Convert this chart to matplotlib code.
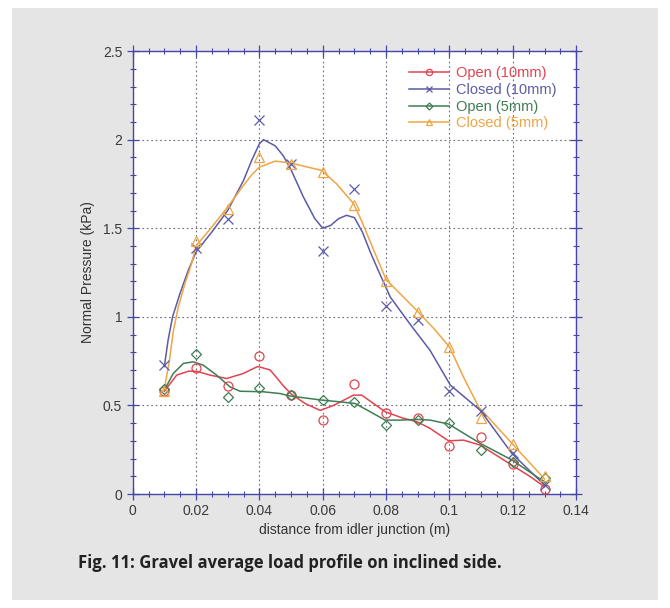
import numpy as np
import matplotlib.pyplot as plt
from matplotlib.patches import Rectangle
from matplotlib.ticker import MultipleLocator

plt.rcParams["font.family"] = ["Liberation Sans", "DejaVu Sans"]

# ── Measured points ─────────────────────────────────────────────────────────
distance = [0.01, 0.02, 0.03, 0.04, 0.05, 0.06, 0.07, 0.08, 0.09, 0.10, 0.11, 0.12, 0.13]
open_10 = [0.58, 0.71, 0.61, 0.78, 0.56, 0.42, 0.62, 0.46, 0.43, 0.27, 0.32, 0.17, 0.03]
closed_10 = [0.73, 1.39, 1.55, 2.11, 1.86, 1.37, 1.72, 1.06, 0.98, 0.58, 0.47, 0.23, 0.05]
open_5 = [0.59, 0.79, 0.55, 0.60, 0.56, 0.53, 0.52, 0.39, 0.42, 0.40, 0.25, 0.18, 0.09]
closed_5 = [0.58, 1.43, 1.61, 1.90, 1.86, 1.82, 1.63, 1.20, 1.03, 0.83, 0.43, 0.28, 0.10]

# ── Smoothed curves ─────────────────────────────────────────────────────────
open_10_cx = [0.010, 0.0139, 0.0176, 0.0202, 0.0244, 0.0297, 0.0349, 0.0395, 0.0434,
              0.0476, 0.050, 0.0545, 0.0592, 0.0634, 0.0697, 0.0723, 0.0797, 0.085,
              0.0897, 0.0939, 0.0997, 0.1044, 0.1097, 0.1197, 0.1255, 0.130]
open_10_cy = [0.58, 0.671, 0.693, 0.693, 0.671, 0.652, 0.68, 0.72, 0.70,
              0.61, 0.565, 0.51, 0.472, 0.50, 0.558, 0.558, 0.464, 0.43,
              0.408, 0.37, 0.30, 0.304, 0.276, 0.163, 0.098, 0.04]

closed_10_cx = [0.010, 0.0112, 0.0126, 0.0149, 0.0175, 0.020, 0.025, 0.030, 0.035,
                0.0375, 0.040, 0.0413, 0.045, 0.0475, 0.050, 0.0539, 0.0575, 0.060,
                0.0625, 0.065, 0.0675, 0.070, 0.0725, 0.075, 0.0775, 0.0813, 0.0875,
                0.0939, 0.1003, 0.1097, 0.1197, 0.130]
closed_10_cy = [0.72, 0.87, 1.00, 1.13, 1.26, 1.366, 1.479, 1.60, 1.77,
                1.88, 1.977, 2.00, 1.965, 1.91, 1.83, 1.676, 1.554, 1.50,
                1.516, 1.554, 1.573, 1.56, 1.479, 1.366, 1.263, 1.112, 0.96,
                0.81, 0.614, 0.473, 0.229, 0.05]

open_5_cx = [0.010, 0.0128, 0.016, 0.0191, 0.0223, 0.0265, 0.0307, 0.0339, 0.0412,
             0.0465, 0.0497, 0.0597, 0.0655, 0.0702, 0.075, 0.0797, 0.0844, 0.0897,
             0.0939, 0.0997, 0.1097, 0.1197, 0.1291, 0.130]
open_5_cy = [0.586, 0.68, 0.737, 0.746, 0.727, 0.671, 0.605, 0.58, 0.577,
             0.567, 0.553, 0.53, 0.52, 0.511, 0.464, 0.417, 0.417, 0.421,
             0.417, 0.395, 0.286, 0.192, 0.079, 0.07]

closed_5_cx = [0.010, 0.0116, 0.0128, 0.0144, 0.0165, 0.0186, 0.020, 0.025, 0.030,
               0.035, 0.0375, 0.040, 0.045, 0.050, 0.0597, 0.0644, 0.0697, 0.0723,
               0.076, 0.080, 0.085, 0.090, 0.095, 0.100, 0.1044, 0.1092, 0.1197, 0.130]
closed_5_cy = [0.59, 0.755, 0.915, 1.056, 1.188, 1.30, 1.40, 1.507, 1.62,
               1.742, 1.80, 1.845, 1.879, 1.868, 1.826, 1.75, 1.64, 1.54,
               1.38, 1.21, 1.12, 1.03, 0.935, 0.83, 0.661, 0.492, 0.286, 0.085]

series = [
    ("Open (10mm)", open_10, open_10_cx, open_10_cy, "#e2434f", "o"),
    ("Closed (10mm)", closed_10, closed_10_cx, closed_10_cy, "#5b5ba6", "x"),
    ("Open (5mm)", open_5, open_5_cx, open_5_cy, "#3f7d53", "D"),
    ("Closed (5mm)", closed_5, closed_5_cx, closed_5_cy, "#f0a545", "^"),
]

fig = plt.figure(figsize=(6.7, 6.08), dpi=100, facecolor="white")
fig.patches.append(Rectangle((12 / 670, 8 / 608), 646 / 670, 592 / 608,
                             transform=fig.transFigure, facecolor="#e5e5e5",
                             edgecolor="none", zorder=-10))

ax = fig.add_axes([0.198, 0.1875, 0.662, 0.7285])
ax.set_facecolor("white")

handles = []
for label, pts, cx, cy, color, marker in series:
    ax.plot(cx, cy, color=color, linewidth=1.1, zorder=3)
    ax.plot(distance, pts, linestyle="none", marker=marker,
            markersize=5.0 if marker == "D" else 6.5,
            markerfacecolor="none", markeredgecolor=color, markeredgewidth=0.9, zorder=4)
    h, = ax.plot([], [], color=color, linewidth=1.1, marker=marker,
                 markersize=3.5 if marker == "D" else 4.5,
                 markerfacecolor="none", markeredgecolor=color, markeredgewidth=0.9)
    handles.append((h, label, color))

leg = ax.legend([h for h, _, _ in handles], [l for _, l, _ in handles],
                loc="upper right", bbox_to_anchor=(0.975, 0.985), frameon=False,
                fontsize=10.5, handlelength=2.7, handletextpad=0.5,
                labelspacing=0.18, borderaxespad=0.2)
for txt, (_, _, color) in zip(leg.get_texts(), handles):
    txt.set_color(color)

ax.set_xlim(0, 0.14)
ax.set_ylim(0, 2.5)
ax.xaxis.set_minor_locator(MultipleLocator(0.005))
ax.yaxis.set_minor_locator(MultipleLocator(0.1))
ax.set_xticks([0, 0.02, 0.04, 0.06, 0.08, 0.1, 0.12, 0.14])
ax.set_xticklabels(["0", "0.02", "0.04", "0.06", "0.08", "0.1", "0.12", "0.14"])
ax.set_yticks([0, 0.5, 1, 1.5, 2, 2.5])
ax.set_yticklabels(["0", "0.5", "1", "1.5", "2", "2.5"])

spine_color = "#4646a8"
for s in ax.spines.values():
    s.set_color(spine_color)
    s.set_linewidth(1.0)
ax.tick_params(which="both", direction="inout", top=True, right=True,
               color=spine_color, labelcolor="#3a3a3a", labelsize=10)
ax.tick_params(which="major", length=8, width=0.9)
ax.tick_params(which="minor", length=4, width=0.8)
ax.grid(True, which="major", linestyle=(0, (1.5, 2.5)), color="#50506a",
        linewidth=0.8, alpha=0.85)

ax.set_xlabel("distance from idler junction (m)", fontsize=10, color="#333333", labelpad=3)
ax.set_ylabel("Normal Pressure (kPa)", fontsize=10, color="#333333", labelpad=6)

fig.text(0.117, 0.074, "Fig. 11: Gravel average load profile on inclined side.",
         fontsize=12, fontweight="bold", color="#222222", family="Open Sans",
         ha="left", va="center")

fig.savefig("out.png", dpi=100, facecolor=fig.get_facecolor())
